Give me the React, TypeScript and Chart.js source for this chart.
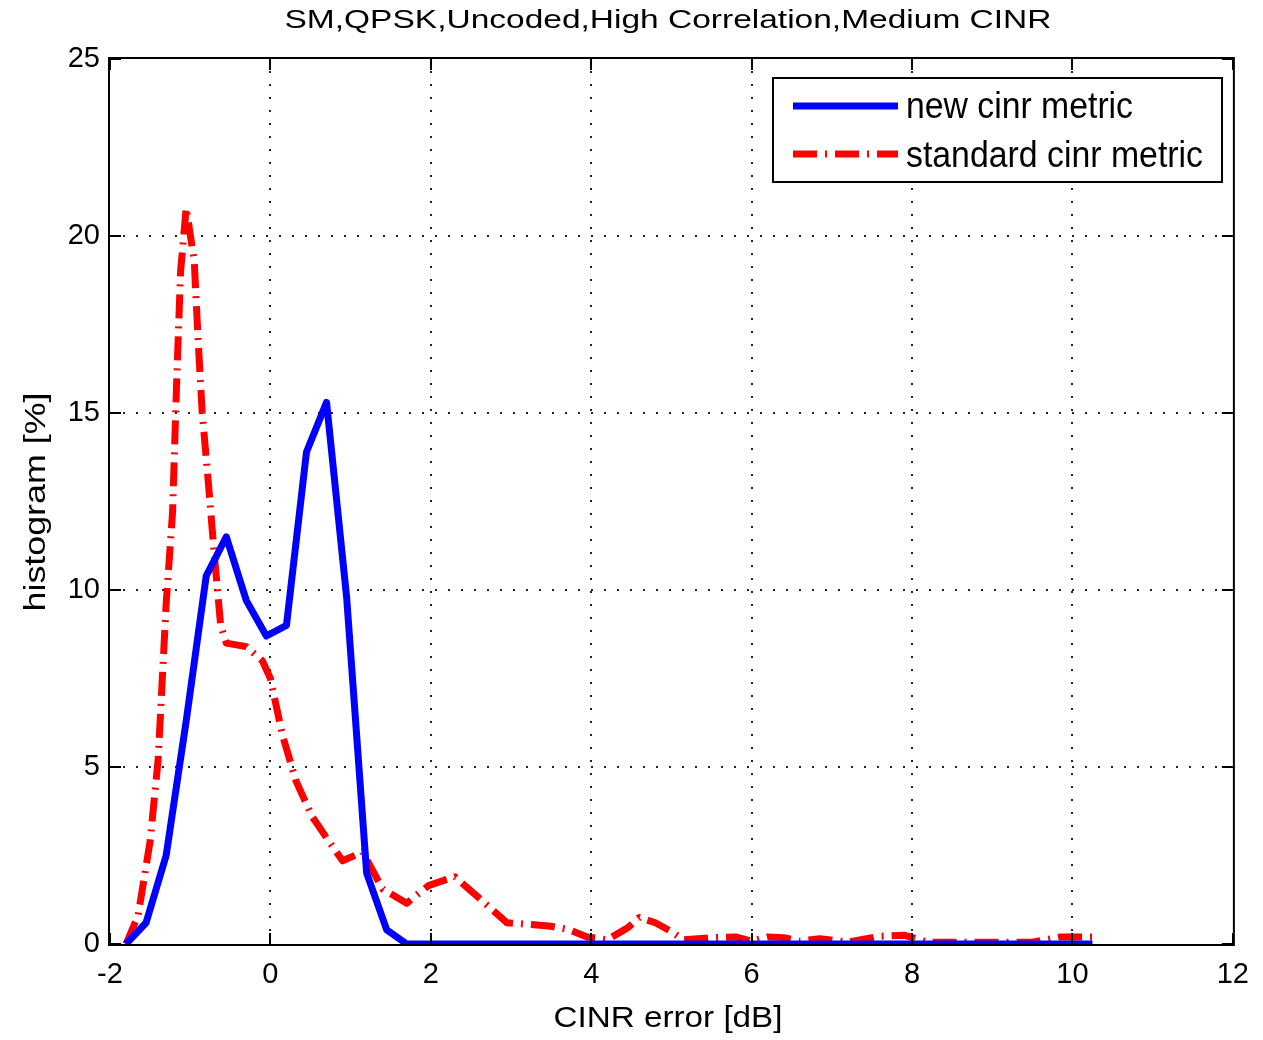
import React, { useEffect, useRef } from "react";
import { Chart, registerables } from "chart.js";

Chart.register(...registerables);

const titleText = "SM,QPSK,Uncoded,High Correlation,Medium CINR";
const xAxisLabel = "CINR error [dB]";
const yAxisLabel = "histogram [%]";
const seriesLabels = ["new cinr metric", "standard cinr metric"];

const xTickValues = [-2, 0, 2, 4, 6, 8, 10, 12];
const yTickValues = [0, 5, 10, 15, 20, 25];

// new cinr metric (blue, solid)
const newX = [-1.8, -1.55, -1.3, -1.05, -0.8, -0.55, -0.3, -0.05, 0.2, 0.45, 0.7, 0.95, 1.2, 1.45, 1.7, 3, 5, 7, 9, 10.25];
const newY = [0, 0.6, 2.5, 6.3, 10.4, 11.5, 9.7, 8.7, 9.0, 13.9, 15.3, 9.8, 2.0, 0.4, 0, 0, 0, 0, 0, 0];

// standard cinr metric (red, dash-dot)
const stdX = [-1.8, -1.65, -1.5, -1.4, -1.3, -1.22, -1.17, -1.12, -1.05, -0.95, -0.9, -0.85, -0.78, -0.7, -0.62, -0.55, -0.3, -0.1, 0.0, 0.15, 0.32, 0.52, 0.73, 0.9, 1.15, 1.4, 1.7, 1.97, 2.3, 2.6, 2.8, 2.95, 3.25, 3.5, 3.7, 3.95, 4.2, 4.45, 4.6, 4.8, 5.0, 5.15, 5.5, 5.8, 6.0, 6.2, 6.4, 6.6, 6.85, 7.2, 7.6, 7.9, 8.2, 8.6, 9.0, 9.5, 9.85, 10.25];
const stdY = [0, 0.8, 2.9, 5.2, 9.6, 12.2, 15.8, 19.0, 20.8, 19.3, 17.0, 15.0, 13.2, 11.0, 9.0, 8.5, 8.4, 8.0, 7.5, 5.9, 4.6, 3.6, 2.9, 2.35, 2.6, 1.55, 1.15, 1.65, 1.9, 1.3, 0.9, 0.6, 0.55, 0.5, 0.42, 0.2, 0.12, 0.45, 0.75, 0.6, 0.35, 0.12, 0.18, 0.2, 0.08, 0.2, 0.18, 0.08, 0.15, 0.05, 0.22, 0.25, 0.05, 0.05, 0.05, 0.05, 0.2, 0.2];

const blue = "#0000ff";
const red = "#ff0000";
const FONT = '"Liberation Sans", Arial, Helvetica, sans-serif';

function fitText(
  ctx: CanvasRenderingContext2D,
  text: string,
  x: number,
  y: number,
  width: number,
  size: number,
  align: CanvasTextAlign
) {
  ctx.save();
  ctx.font = `${size}px ${FONT}`;
  const w = ctx.measureText(text).width;
  const sx = width / w;
  ctx.translate(x, y);
  ctx.scale(sx, 1);
  ctx.textAlign = align;
  ctx.textBaseline = "alphabetic";
  ctx.fillStyle = "#000";
  ctx.fillText(text, 0, 0);
  ctx.restore();
}

const matlabPlugin = {
  id: "matlabDecor",
  beforeDatasetsDraw(chart: any) {
    const { ctx, chartArea } = chart;
    const xs = chart.scales.x;
    const ys = chart.scales.y;
    ctx.save();
    ctx.strokeStyle = "#222";
    ctx.lineWidth = 2;
    ctx.setLineDash([2, 11]);
    for (const v of xTickValues) {
      const px = Math.round(xs.getPixelForValue(v));
      if (px <= chartArea.left + 2 || px >= chartArea.right - 2) continue;
      ctx.beginPath();
      ctx.moveTo(px, chartArea.bottom);
      ctx.lineTo(px, chartArea.top);
      ctx.stroke();
    }
    for (const v of yTickValues) {
      const py = Math.round(ys.getPixelForValue(v));
      if (py <= chartArea.top + 2 || py >= chartArea.bottom - 2) continue;
      ctx.beginPath();
      ctx.moveTo(chartArea.left, py);
      ctx.lineTo(chartArea.right, py);
      ctx.stroke();
    }
    ctx.restore();
  },
  afterDatasetsDraw(chart: any) {
    const { ctx, chartArea } = chart;
    const xs = chart.scales.x;
    const ys = chart.scales.y;
    const { left, right, top, bottom } = chartArea;
    ctx.save();
    // box
    ctx.strokeStyle = "#000";
    ctx.lineWidth = 2;
    ctx.setLineDash([]);
    ctx.strokeRect(left - 1, top - 1, right - left + 2, bottom - top + 2);
    // inward ticks
    const tl = 11;
    ctx.beginPath();
    for (const v of xTickValues) {
      const px = Math.round(xs.getPixelForValue(v));
      ctx.moveTo(px, bottom);
      ctx.lineTo(px, bottom - tl);
      ctx.moveTo(px, top);
      ctx.lineTo(px, top + tl);
    }
    for (const v of yTickValues) {
      const py = Math.round(ys.getPixelForValue(v));
      ctx.moveTo(left, py);
      ctx.lineTo(left + tl, py);
      ctx.moveTo(right, py);
      ctx.lineTo(right - tl, py);
    }
    ctx.stroke();

    // legend
    const lx = 773, ly = 78, lw = 449, lh = 104;
    ctx.fillStyle = "#fff";
    ctx.fillRect(lx, ly, lw, lh);
    ctx.strokeStyle = "#000";
    ctx.lineWidth = 2;
    ctx.strokeRect(lx, ly, lw, lh);

    ctx.lineWidth = 7;
    ctx.strokeStyle = blue;
    ctx.beginPath();
    ctx.moveTo(793, 106);
    ctx.lineTo(898, 106);
    ctx.stroke();

    ctx.strokeStyle = red;
    ctx.setLineDash([24, 8, 2, 8]);
    ctx.beginPath();
    ctx.moveTo(793, 154);
    ctx.lineTo(898, 154);
    ctx.stroke();
    ctx.setLineDash([]);

    fitText(ctx, seriesLabels[0], 906, 118, 227, 36, "left");
    fitText(ctx, seriesLabels[1], 906, 167, 297, 36, "left");

    // title and axis labels
    fitText(ctx, titleText, 668, 28, 767, 26, "center");
    fitText(ctx, xAxisLabel, 668, 1027, 229, 30, "center");

    ctx.save();
    ctx.translate(45, 502);
    ctx.rotate(-Math.PI / 2);
    fitText(ctx, yAxisLabel, 0, 0, 219, 30, "center");
    ctx.restore();

    ctx.restore();
  },
};

export default function App() {
  const ref = useRef<HTMLCanvasElement | null>(null);

  useEffect(() => {
    if (!ref.current) return;
    const chart = new Chart(ref.current, {
      type: "scatter",
      data: {
        datasets: [
          {
            label: seriesLabels[0],
            data: newX.map((x, i) => ({ x, y: newY[i] })),
            showLine: true,
            borderColor: blue,
            backgroundColor: blue,
            borderWidth: 7,
            pointRadius: 0,
            tension: 0,
            borderJoinStyle: "round",
          },
          {
            label: seriesLabels[1],
            data: stdX.map((x, i) => ({ x, y: stdY[i] })),
            showLine: true,
            borderColor: red,
            backgroundColor: red,
            borderWidth: 7,
            borderDash: [24, 8, 2, 8],
            borderJoinStyle: "round",
            pointRadius: 0,
            tension: 0,
          },
        ],
      },
      options: {
        animation: false,
        responsive: false,
        maintainAspectRatio: false,
        layout: { padding: { left: 0, top: 59, right: 23, bottom: 0 } },
        plugins: {
          legend: { display: false },
          title: { display: false },
          tooltip: { enabled: false },
        },
        scales: {
          x: {
            type: "linear",
            min: -2,
            max: 12,
            afterBuildTicks: (scale: any) => {
              scale.ticks = xTickValues.map((v) => ({ value: v }));
            },
            afterFit: (scale: any) => {
              scale.height = 1040 - 944;
            },
            grid: { display: false, drawTicks: false },
            border: { display: false },
            ticks: {
              padding: 14,
              color: "#000",
              font: { family: FONT, size: 29 },
              maxRotation: 0,
              autoSkip: false,
            },
          },
          y: {
            type: "linear",
            min: 0,
            max: 25,
            afterBuildTicks: (scale: any) => {
              scale.ticks = yTickValues.map((v) => ({ value: v }));
            },
            afterFit: (scale: any) => {
              scale.width = 110;
            },
            grid: { display: false, drawTicks: false },
            border: { display: false },
            ticks: {
              padding: 10,
              color: "#000",
              font: { family: FONT, size: 29 },
              autoSkip: false,
            },
          },
        },
      },
      plugins: [matlabPlugin],
    });
    return () => chart.destroy();
  }, []);

  return (
    <div style={{ position: "fixed", left: 0, top: 0, width: 1263, height: 1040, background: "#fff" }}>
      <canvas ref={ref} width={1263} height={1040} style={{ width: 1263, height: 1040, display: "block" }} />
    </div>
  );
}
